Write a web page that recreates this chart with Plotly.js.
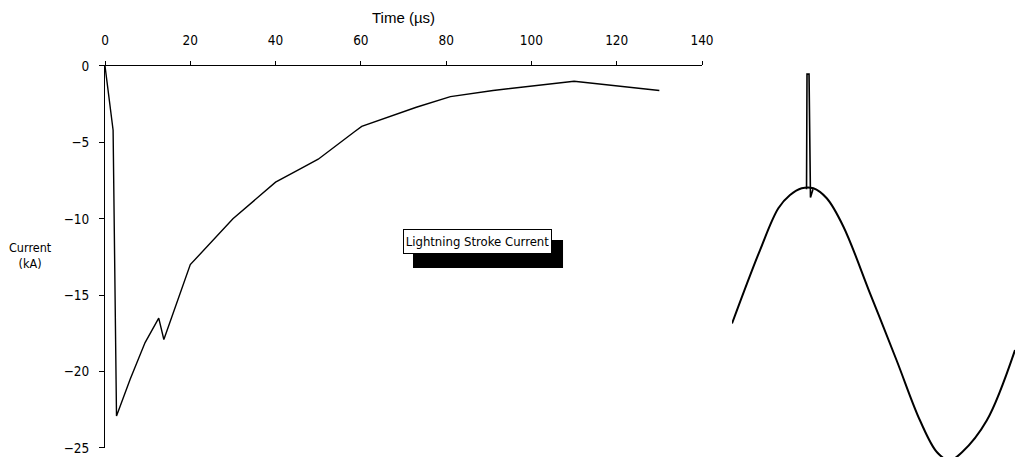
<!DOCTYPE html>
<html>
<head>
<meta charset="utf-8">
<script src="https://cdn.plot.ly/plotly-3.0.1.min.js"></script>
<style>
  html, body { margin: 0; padding: 0; background: #fff; }
  #chart { width: 1015px; height: 457px; }
</style>
</head>
<body>
<div id="chart"></div>
<script>
// Lightning stroke current (left panel)
const timeUs = [0, 1.9, 2.7, 5.9, 9.4, 12.6, 13.8, 20, 30, 40, 46, 50, 58.5, 60.2, 73, 81, 91, 100, 110, 130];
const currentKA = [0, -4.2, -22.9, -20.5, -18.1, -16.5, -17.9, -13, -10, -7.6, -6.7, -6.1, -4.3, -3.95, -2.7, -2.0, -1.6, -1.3, -1.0, -1.6];
const xTickVals = [0, 20, 40, 60, 80, 100, 120, 140];
const yTickVals = [0, -5, -10, -15, -20, -25];

// Power-frequency wave with superimposed spike (right panel), angle in degrees, per-unit
const waveDeg = [0, 34.8, 57.5, 72.0, 86.5, 100.9, 117.6, 138.2, 171.3, 204.4, 233.4, 254.5, 270.0, 285.5, 316.2, 351.3];
const waveVal = [0, 0.542, 0.850, 0.948, 0.998, 0.998, 0.924, 0.716, 0.223, -0.273, -0.716, -0.95, -1.01, -0.95, -0.716, -0.196];
const spikeDeg = [92.5, 93.1, 95.6, 97.4, 100.5];
const spikeVal = [0.99, 1.84, 1.84, 0.93, 0.99];

const narrow = "'Liberation Sans Narrow', 'DejaVu Sans Condensed', 'Arial Narrow', sans-serif";
const regular = "'Liberation Sans', Arial, sans-serif";

const traces = [
  { x: timeUs, y: currentKA, type: 'scatter', mode: 'lines', xaxis: 'x', yaxis: 'y',
    line: { color: '#000', width: 1.4 }, hoverinfo: 'skip' },
  { x: waveDeg, y: waveVal, type: 'scatter', mode: 'lines', xaxis: 'x2', yaxis: 'y2',
    line: { color: '#000', width: 2, shape: 'spline', smoothing: 1 }, hoverinfo: 'skip' },
  { x: spikeDeg, y: spikeVal, type: 'scatter', mode: 'lines', xaxis: 'x2', yaxis: 'y2',
    line: { color: '#000', width: 1.6 }, hoverinfo: 'skip' }
];

const layout = {
  width: 1015, height: 457,
  margin: { l: 0, r: 0, t: 0, b: 0 },
  paper_bgcolor: '#fff', plot_bgcolor: 'rgba(0,0,0,0)',
  showlegend: false,
  font: { family: narrow, size: 13.5, color: '#000' },
  xaxis: {
    domain: [0.10345, 0.69163], range: [0, 140], side: 'top', anchor: 'y',
    showline: true, linecolor: '#000', linewidth: 1, mirror: false,
    ticks: 'outside', ticklen: 4, tickcolor: '#000', tickwidth: 1,
    tickvals: xTickVals, ticktext: xTickVals.map(String), ticklabelstandoff: 11,
    ticklabeloverflow: 'allow',
    showgrid: false, zeroline: false,
    tickfont: { family: narrow, size: 13.5, color: '#000' },
    title: { text: 'Time (µs)', font: { family: regular, size: 15, color: '#000' }, standoff: 4 }
  },
  yaxis: {
    domain: [0.01969, 0.85558], range: [-25, 0], anchor: 'x',
    showline: true, linecolor: '#000', linewidth: 1,
    ticks: 'outside', ticklen: 5, tickcolor: '#000', tickwidth: 1,
    tickvals: yTickVals, ticklabelstandoff: 7,
    ticklabeloverflow: 'allow',
    showgrid: false, zeroline: false,
    tickfont: { family: narrow, size: 13.5, color: '#000' }
  },
  xaxis2: {
    domain: [0.7212, 1], range: [0, 351.3], anchor: 'y2',
    visible: false, showgrid: false, zeroline: false
  },
  yaxis2: {
    domain: [0, 1], range: [-0.985, 2.387], anchor: 'x2',
    visible: false, showgrid: false, zeroline: false
  },
  shapes: [
    { type: 'rect', xref: 'paper', yref: 'paper', x0: 0.4069, x1: 0.5547, y0: 0.4136, y1: 0.4748,
      fillcolor: '#000', line: { width: 0 }, layer: 'above' }
  ],
  annotations: [
    { xref: 'paper', yref: 'paper', x: 0.4704, y: 0.4711, xanchor: 'center', yanchor: 'middle',
      text: 'Lightning Stroke Current', showarrow: false, width: 143, height: 19,
      font: { family: narrow, size: 13, color: '#000' },
      bgcolor: '#fff', bordercolor: '#000', borderwidth: 1, borderpad: 2 },
    { xref: 'paper', yref: 'paper', x: 0.0305, y: 0.442, xanchor: 'center', yanchor: 'middle',
      text: 'Current<br>(kA)', showarrow: false, align: 'center',
      font: { family: narrow, size: 12.5, color: '#000' } }
  ]
};

Plotly.newPlot('chart', traces, layout, { displayModeBar: false, staticPlot: true });
</script>
</body>
</html>
